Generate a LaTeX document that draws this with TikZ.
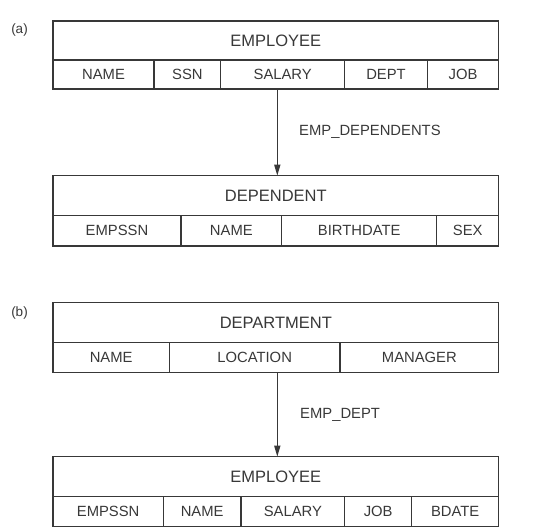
\documentclass[tikz,border=0pt]{standalone}
\usepackage{fontspec}
\setmainfont{Liberation Sans}
\usetikzlibrary{arrows.meta}
\definecolor{ink}{HTML}{383838}
\newcommand\mycell[6]{\node[cell, minimum width={#3-#2}, minimum height={#5-#4}] (#1) at ({(#2+#3)/2},{(#4+#5)/2}) {#6};}
\newcommand\myhead[6]{\node[headbox, minimum width={#3-#2}, minimum height={#5-#4}] (#1) at ({(#2+#3)/2},{(#4+#5)/2}) {#6};}
\begin{document}
\begin{tikzpicture}[x=1pt,y=-1pt,
  cell/.style={draw=ink, line width=1.4pt, inner sep=0pt, text=ink, font=\fontsize{14.8}{16}\selectfont},
  headbox/.style={draw=ink, line width=1.4pt, inner sep=0pt, text=ink, font=\fontsize{16.5}{18}\selectfont},
  lbl/.style={text=ink, inner sep=0pt, font=\fontsize{14.8}{16}\selectfont},
  tag/.style={text=ink, inner sep=0pt, font=\fontsize{13.5}{15}\selectfont},
  arr/.style={draw=ink, line width=1.4pt, -{Triangle[length=11pt,width=6pt]}}]
\useasboundingbox (0,0) rectangle (548,531);
% (a)
\node[tag] (ta) at (19.5,30.5) {(a)};
\myhead{e1}{53}{498.7}{21}{60}{EMPLOYEE}
\mycell{e1n}{53}{154}{60}{89}{NAME}
\mycell{e1s}{154}{220.7}{60}{89}{SSN}
\mycell{e1sal}{220.7}{344.7}{60}{89}{SALARY}
\mycell{e1d}{344.7}{427.3}{60}{89}{DEPT}
\mycell{e1j}{427.3}{498.7}{60}{89}{JOB}
\myhead{dep}{53}{498.7}{175.7}{215.7}{DEPENDENT}
\mycell{dpe}{53}{181}{215.7}{246}{EMPSSN}
\mycell{dpn}{181}{281.7}{215.7}{246}{NAME}
\mycell{dpb}{281.7}{436.7}{215.7}{246}{BIRTHDATE}
\mycell{dps}{436.7}{498.7}{215.7}{246}{SEX}
\coordinate (a1) at (277.3,89);
\coordinate (a2) at (277.3,175.7);
\draw[arr] (a1) -- (a2);
\node[lbl, anchor=west] (l1) at (299,131.5) {EMP\_DEPENDENTS};
% (b)
\node[tag] (tb) at (19.5,312.7) {(b)};
\myhead{dpt}{53}{498.7}{302.7}{342.3}{DEPARTMENT}
\mycell{dtn}{53}{169.3}{342.3}{372.3}{NAME}
\mycell{dtl}{169.3}{340}{342.3}{372.3}{LOCATION}
\mycell{dtm}{340}{498.7}{342.3}{372.3}{MANAGER}
\myhead{e2}{53}{498.7}{456.7}{496.7}{EMPLOYEE}
\mycell{e2e}{53}{163.3}{496.7}{526.7}{EMPSSN}
\mycell{e2n}{163.3}{241}{496.7}{526.7}{NAME}
\mycell{e2s}{241}{344.7}{496.7}{526.7}{SALARY}
\mycell{e2j}{344.7}{411.7}{496.7}{526.7}{JOB}
\mycell{e2b}{411.7}{498.7}{496.7}{526.7}{BDATE}
\coordinate (b1) at (277.3,372.3);
\coordinate (b2) at (277.3,456.7);
\draw[arr] (b1) -- (b2);
\node[lbl, anchor=west] (l2) at (300,415) {EMP\_DEPT};
\end{tikzpicture}
\end{document}
